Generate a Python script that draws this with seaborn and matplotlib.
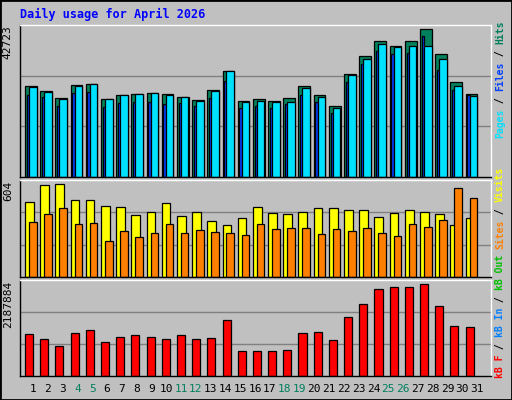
import matplotlib
matplotlib.use("Agg")
import matplotlib.pyplot as plt
import seaborn as sns
import pandas as pd
import numpy as np

sns.set_style("white")
plt.rcParams['font.family'] = ['DejaVu Sans Mono', 'DejaVu Sans']

days = list(range(1, 31))
all_days = list(range(1, 32))
weekend = [4, 5, 11, 12, 18, 19, 25, 26]
hits = [25447,24132,22066,25729,26010,21785,22912,23193,23475,23193,22348,21503,24320,29672,21221,
        21785,21221,22066,25447,22912,19813,28827,33898,38123,36715,38123,41504,34461,26574,23193]
files = [25165,23757,21785,25447,26010,21785,22912,23193,23475,22912,22348,21221,24038,29672,20940,
         21221,20940,20940,24884,22348,19250,28546,33053,37278,36433,36715,36715,33053,25447,22630]
pages = [22912,22348,19813,23475,23757,19531,20658,20940,20940,20376,20658,19813,22066,26855,19250,
         19813,19250,20376,22912,20940,17841,26574,31644,35306,34461,34743,39532,29954,24320,22912]
visits = [466,573,579,479,479,441,435,385,403,460,378,403,347,322,366,435,397,391,403,428,428,416,
          416,372,397,416,403,391,322,366]
sites = [341,391,428,328,334,222,284,247,272,328,272,291,278,272,259,328,297,303,303,265,297,284,
         303,272,253,328,309,353,554,491]
kbytes = [948600,833850,673200,971550,1040400,765000,879750,925650,879750,833850,925650,833850,
          856800,1269900,558450,558450,558450,581400,971550,994500,810900,1338750,1637100,1981350,
          2027250,2027250,2096100,1591200,1132200,1109250]
max_hits, max_visits, max_kb = 42723, 604, 2187884

BG = "#C0C0C0"
W, H = 512, 400
fig = plt.figure(figsize=(W/100, H/100), dpi=100, facecolor=BG)
fig.patches.append(plt.Rectangle((0, 0), 1, 1, transform=fig.transFigure, fill=False,
                                 edgecolor="black", lw=2))

def ax_px(x0, y0, x1, y1):
    return fig.add_axes([x0/W, 1-y1/H, (x1-x0)/W, (y1-y0)/H])

X0, X1 = 20, 491
ax1 = ax_px(X0, 25, X1, 176.7)
ax2 = ax_px(X0, 180.3, X1, 276.7)
ax3 = ax_px(X0, 280.3, X1, 375.7)

x = np.array(days) - 1.0
ek = dict(edgecolor="black", linewidth=0.9, align="edge")
ax1.bar(x + 0.33, hits, width=0.77, color="#00805C", **ek)
ax1.bar(x + 0.44, pages, width=0.18, color="#0040FF", **ek)
ax1.bar(x + 0.59, files, width=0.50, color="#00E0FF", **ek)
ax2.bar(x + 0.33, visits, width=0.57, color="#FFFF00", **ek)
ax2.bar(x + 0.59, sites, width=0.50, color="#FF8000", **ek)
df = pd.DataFrame({"day": x, "kb": kbytes})
ax3.bar(df["day"] + 0.33, df["kb"], width=0.53, color="#FF0000", **ek)

for ax, mx, lab in [(ax1, max_hits, "42723"), (ax2, max_visits, "604"), (ax3, max_kb, "2187884")]:
    ax.set_facecolor(BG)
    ax.set_xlim(0, 31)
    ax.set_ylim(0, mx)
    for f in (1/3, 2/3):
        ax.axhline(mx*f, color="#808080", lw=1, zorder=0)
    ax.set_xticks([]); ax.set_yticks([])
    for s in ax.spines.values():
        s.set_color("black"); s.set_linewidth(1)
    ax.spines["right"].set_color("white"); ax.spines["top"].set_color("white")
    ax.text(-0.015, 1.0, lab, transform=ax.transAxes, rotation=90, ha="right", va="top",
            fontsize=8, color="black")

fig.text(20/W, 1-14/H, "Daily usage for April 2026", color="#0000FF", fontsize=8.5,
         fontweight="bold", va="center", ha="left")

for d in all_days:
    xp = X0 + 13 + (d-1)*14.8
    fig.text(xp/W, 1-389/H, str(d), ha="center", va="center", fontsize=8,
             color="#00805C" if d in weekend else "black")

renderer = fig.canvas.get_renderer()

def right_label(parts, ybot, fs):
    y = ybot
    for txt, col in parts:
        t = fig.text(500/W, 1-y/H, txt, rotation=90, color=col, fontsize=fs, ha="center",
                     va="bottom", fontweight="bold")
        y -= len(txt) * fs * 0.602 * 100/72

right_label([("Pages", "#00E0FF"), (" / ", "#000000"), ("Files", "#0040FF"),
             (" / ", "#000000"), ("Hits", "#00805C")], 138, 7)
right_label([("kB F", "#FF0000"), (" / ", "#000000"), ("kB In", "#0080FF"), (" / ", "#000000"),
             ("kB Out", "#00C000"), (" ", "#000000"), ("Sites", "#FF8000"), (" / ", "#000000"),
             ("Visits", "#FFFF00")], 378, 7)

fig.savefig("out.png", dpi=100, facecolor=BG)
